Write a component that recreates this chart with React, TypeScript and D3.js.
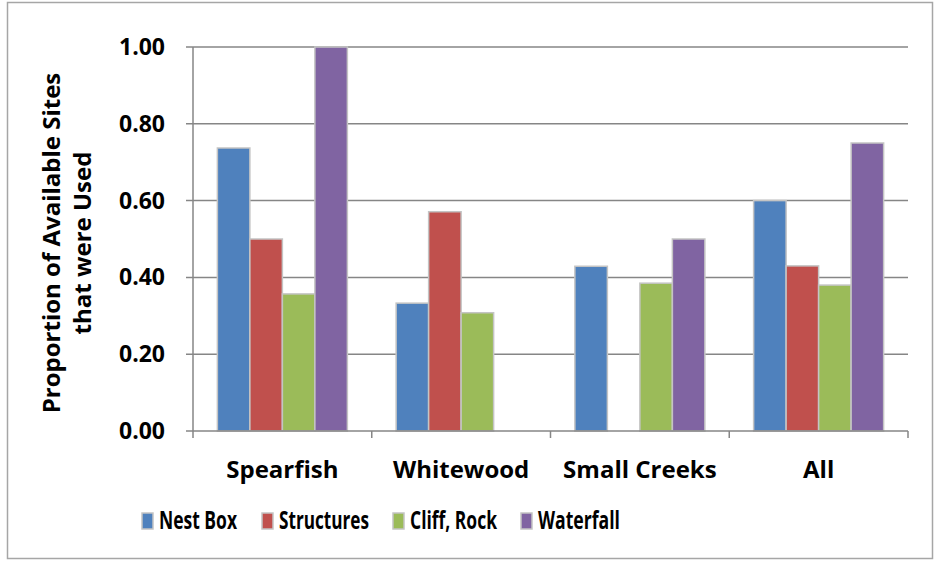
import React, { useEffect, useRef } from "react";
import * as d3 from "d3";

const categories = ["Spearfish", "Whitewood", "Small Creeks", "All"];
const seriesNames = ["Nest Box", "Structures", "Cliff, Rock", "Waterfall"];
const nestBox = [0.737, 0.333, 0.429, 0.6];
const structures = [0.5, 0.571, 0, 0.43];
const cliffRock = [0.357, 0.308, 0.385, 0.38];
const waterfall = [1.0, 0, 0.5, 0.75];
const yTicks = [0, 0.2, 0.4, 0.6, 0.8, 1.0];

const colors = ["#4F81BD", "#C0504D", "#9BBB59", "#8064A2"];
const FONT = "'Open Sans', sans-serif";

const App: React.FC = () => {
  const svgRef = useRef<SVGSVGElement | null>(null);

  useEffect(() => {
    if (!svgRef.current) return;
    const svg = d3.select(svgRef.current);
    svg.selectAll("*").remove();

    const plot = { left: 193, right: 908, top: 47, bottom: 431 };
    const series = [nestBox, structures, cliffRock, waterfall];

    // chart border
    svg
      .append("rect")
      .attr("x", 7.5)
      .attr("y", 2.5)
      .attr("width", 925)
      .attr("height", 556)
      .attr("fill", "#fff")
      .attr("stroke", "#a6a6a6")
      .attr("stroke-width", 1.5);

    const x0 = d3
      .scaleBand<string>()
      .domain(categories)
      .range([plot.left, plot.right])
      .paddingInner(0)
      .paddingOuter(0);

    const x1 = d3
      .scaleBand<string>()
      .domain(seriesNames)
      .range([0, x0.bandwidth()])
      .paddingOuter(0.75)
      .paddingInner(0);

    const y = d3.scaleLinear().domain([0, 1]).range([plot.bottom, plot.top]);

    // gridlines
    svg
      .append("g")
      .selectAll("line")
      .data(yTicks.filter((d) => d > 0))
      .enter()
      .append("line")
      .attr("x1", plot.left - 7)
      .attr("x2", plot.right)
      .attr("y1", (d) => y(d))
      .attr("y2", (d) => y(d))
      .attr("stroke", "#868686")
      .attr("stroke-width", 1.5);

    // bars
    categories.forEach((cat, ci) => {
      const g = svg.append("g").attr("transform", `translate(${x0(cat)},0)`);
      series.forEach((vals, si) => {
        const v = vals[ci];
        if (!v) return;
        g.append("rect")
          .attr("x", x1(seriesNames[si])!)
          .attr("y", y(v))
          .attr("width", x1.bandwidth())
          .attr("height", y(0) - y(v))
          .attr("fill", colors[si])
          .attr("stroke", "#c4c4c4")
          .attr("stroke-width", 1.5);
      });
    });

    // axis lines
    svg
      .append("line")
      .attr("x1", plot.left)
      .attr("x2", plot.left)
      .attr("y1", plot.top)
      .attr("y2", plot.bottom)
      .attr("stroke", "#868686")
      .attr("stroke-width", 1.5);
    svg
      .append("line")
      .attr("x1", plot.left - 7)
      .attr("x2", plot.right)
      .attr("y1", plot.bottom)
      .attr("y2", plot.bottom)
      .attr("stroke", "#868686")
      .attr("stroke-width", 1.5);

    // x tick marks at band boundaries
    const bounds = categories.map((c) => x0(c)!).concat([plot.right]);
    svg
      .append("g")
      .selectAll("line")
      .data(bounds)
      .enter()
      .append("line")
      .attr("x1", (d) => d)
      .attr("x2", (d) => d)
      .attr("y1", plot.bottom)
      .attr("y2", plot.bottom + 7)
      .attr("stroke", "#868686")
      .attr("stroke-width", 1.5);

    // y tick labels
    svg
      .append("g")
      .selectAll("text")
      .data(yTicks)
      .enter()
      .append("text")
      .attr("x", 165)
      .attr("y", (d) => y(d) + 8)
      .attr("text-anchor", "end")
      .attr("font-family", FONT)
      .attr("font-weight", "bold")
      .attr("font-size", 23)
      .attr("fill", "#000")
      .text((d) => d.toFixed(2));

    // x category labels
    svg
      .append("g")
      .selectAll("text")
      .data(categories)
      .enter()
      .append("text")
      .attr("x", (d) => x0(d)! + x0.bandwidth() / 2)
      .attr("y", 478)
      .attr("text-anchor", "middle")
      .attr("font-family", FONT)
      .attr("font-weight", "bold")
      .attr("font-size", 24)
      .attr("fill", "#000")
      .text((d) => d);

    // y axis title
    const title = svg
      .append("text")
      .attr("transform", `translate(60,${(plot.top + plot.bottom) / 2 + 4}) rotate(-90)`)
      .attr("text-anchor", "middle")
      .attr("font-family", FONT)
      .attr("font-weight", "bold")
      .attr("font-size", 24)
      .attr("fill", "#000");
    title.append("tspan").attr("x", 0).attr("dy", 0).text("Proportion of Available Sites");
    title.append("tspan").attr("x", 0).attr("dy", 31).text("that were Used");

    // legend (compressed horizontally like the original)
    const legendX = [142, 262, 393, 521];
    const legendW = [78, 90, 87, 82];
    const legend = svg.append("g");
    seriesNames.forEach((name, i) => {
      legend
        .append("rect")
        .attr("x", legendX[i])
        .attr("y", 513)
        .attr("width", 11)
        .attr("height", 16)
        .attr("fill", colors[i])
        .attr("stroke", "#c4c4c4")
        .attr("stroke-width", 1.5);
      legend
        .append("text")
        .attr("x", legendX[i] + 17)
        .attr("y", 529)
        .attr("font-family", FONT)
        .attr("font-weight", "bold")
        .attr("font-size", 25)
        .attr("fill", "#000")
        .attr("textLength", legendW[i])
        .attr("lengthAdjust", "spacingAndGlyphs")
        .text(name);
    });
  }, []);

  return (
    <div style={{ position: "absolute", left: 0, top: 0 }}>
      <svg ref={svgRef} width={937} height={563} style={{ display: "block" }} />
    </div>
  );
};

export default App;
